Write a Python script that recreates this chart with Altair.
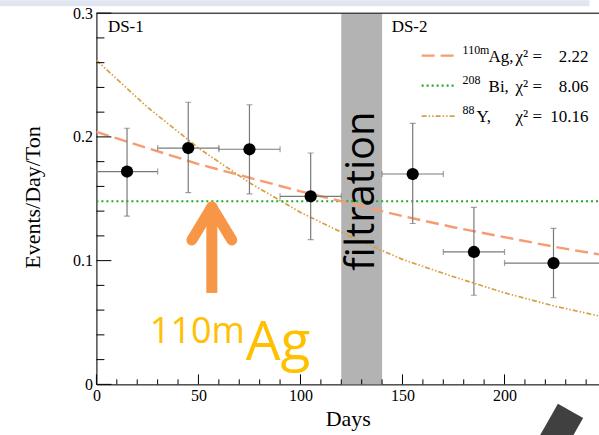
import altair as alt
import pandas as pd

# ---------------- data ----------------
days = [15, 45, 75, 105, 155, 185, 224]
day_lo = [0, 30, 60, 90, 140, 170, 200]
day_hi = [30, 60, 90, 120, 170, 200, 250]
rate = [0.172, 0.191, 0.190, 0.152, 0.170, 0.107, 0.098]
rate_lo = [0.136, 0.155, 0.154, 0.117, 0.130, 0.072, 0.070]
rate_hi = [0.207, 0.228, 0.226, 0.187, 0.211, 0.143, 0.126]

curve_days = [0, 25, 50, 75, 100, 125, 150, 175, 200, 225, 250]
ag_fit = [0.204, 0.191, 0.178, 0.167, 0.156, 0.146, 0.136, 0.127, 0.119, 0.111, 0.104]
bi_fit = [0.148, 0.148, 0.148, 0.148, 0.148, 0.148, 0.148, 0.148, 0.148, 0.148, 0.148]
y_fit = [0.262, 0.224, 0.191, 0.163, 0.139, 0.119, 0.101, 0.087, 0.074, 0.063, 0.054]

filtration_start = [120]
filtration_end = [140]

x_major = [0, 50, 100, 150, 200]
x_minor = [10, 20, 30, 40, 60, 70, 80, 90, 110, 120, 130, 140, 160, 170, 180, 190, 210, 220, 230, 240]
y_major = [0, 0.1, 0.2, 0.3]
y_minor = [0.02, 0.04, 0.06, 0.08, 0.12, 0.14, 0.16, 0.18, 0.22, 0.24, 0.26, 0.28]

# ---------------- layout ----------------
W, H = 503, 371.5
OX, OY = 96.5, 13
SERIF = "Liberation Serif"
SANS = "Open Sans"

AG_C = "#F79B72"
BI_C = "#22AA22"
Y_C = "#D6A040"

xs = alt.Scale(domain=[0, 246.3], nice=False, zero=False)
ys = alt.Scale(domain=[0, 0.3], nice=False, zero=False)

pts = pd.DataFrame({"d": days, "dl": day_lo, "dh": day_hi, "r": rate, "rl": rate_lo, "rh": rate_hi})
curves = pd.DataFrame({"d": curve_days, "ag": ag_fit, "bi": bi_fit, "y": y_fit})
band = pd.DataFrame({"a": filtration_start, "b": filtration_end})
one = pd.DataFrame({"k": [0]})

layers = []

# invisible layer carrying the axes
layers.append(alt.Chart(pts).mark_point(opacity=0).encode(
    x=alt.X("d:Q", scale=xs, title="Days", axis=alt.Axis(
        values=x_major, ticks=False, grid=False, labelFlush=False, labelFont=SERIF, labelFontSize=16,
        labelColor="black", labelPadding=3, domainColor="black", domainWidth=1,
        titleFont=SERIF, titleFontSize=22, titleFontWeight="normal", titleColor="black", titlePadding=5)),
    y=alt.Y("r:Q", scale=ys, title="Events/Day/Ton", axis=alt.Axis(
        values=y_major, ticks=False, grid=False, labelFlush=False, labelFont=SERIF, labelFontSize=16,
        labelColor="black", labelPadding=4, domainColor="black", domainWidth=1,
        labelExpr="datum.value == 0 ? '0' : format(datum.value, '.1f')",
        titleFont=SERIF, titleFontSize=22, titleFontWeight="normal", titleColor="black",
        titleAngle=270, titleAlign="center", titleBaseline="middle", titleX=-64, titleY=184))))

# filtration band
layers.append(alt.Chart(band).mark_rect(color="#B3B3B3").encode(
    x=alt.X("a:Q", scale=xs, axis=None), x2="b:Q",
    y=alt.value(0), y2=alt.value(H)))

# fitted curves
def curve(col, color, dash, width):
    return alt.Chart(curves).mark_line(color=color, strokeDash=dash, strokeWidth=width, clip=True).encode(
        x=alt.X("d:Q", scale=xs, axis=None), y=alt.Y(f"{col}:Q", scale=ys, axis=None))

layers.append(curve("y", Y_C, [5, 2, 1.5, 2, 1.5, 2], 1.7))
layers.append(curve("bi", BI_C, [2, 3], 2.2))
layers.append(curve("ag", AG_C, [13, 6], 2.4))

# error bars
EB = "#7A7A7A"
layers.append(alt.Chart(pts).mark_rule(color=EB, strokeWidth=1.2, clip=True).encode(
    x=alt.X("d:Q", scale=xs, axis=None), y=alt.Y("rl:Q", scale=ys, axis=None), y2="rh:Q"))
layers.append(alt.Chart(pts).mark_rule(color=EB, strokeWidth=1.2, clip=True).encode(
    x=alt.X("dl:Q", scale=xs, axis=None), x2="dh:Q", y=alt.Y("r:Q", scale=ys, axis=None)))
for col in ["rl", "rh"]:
    layers.append(alt.Chart(pts).mark_tick(color=EB, orient="horizontal", size=6, thickness=1.2, clip=True).encode(
        x=alt.X("d:Q", scale=xs, axis=None), y=alt.Y(f"{col}:Q", scale=ys, axis=None)))
for col in ["dl", "dh"]:
    layers.append(alt.Chart(pts).mark_tick(color=EB, orient="vertical", size=6, thickness=1.2, clip=True).encode(
        x=alt.X(f"{col}:Q", scale=xs, axis=None), y=alt.Y("r:Q", scale=ys, axis=None)))

# points
layers.append(alt.Chart(pts).mark_circle(color="black", opacity=1, size=150).encode(
    x=alt.X("d:Q", scale=xs, axis=None), y=alt.Y("r:Q", scale=ys, axis=None)))

# inward ticks
tx_major = pd.DataFrame({"v": x_major})
tx_minor = pd.DataFrame({"v": x_minor})
ty_major = pd.DataFrame({"v": y_major})
ty_minor = pd.DataFrame({"v": y_minor})
layers.append(alt.Chart(tx_major).mark_rule(color="black", strokeWidth=1).encode(
    x=alt.X("v:Q", scale=xs, axis=None), y=alt.value(H), y2=alt.value(H - 10)))
layers.append(alt.Chart(tx_minor).mark_rule(color="black", strokeWidth=1).encode(
    x=alt.X("v:Q", scale=xs, axis=None), y=alt.value(H), y2=alt.value(H - 5)))
layers.append(alt.Chart(ty_major).mark_rule(color="black", strokeWidth=1).encode(
    y=alt.Y("v:Q", scale=ys, axis=None), x=alt.value(0), x2=alt.value(15)))
layers.append(alt.Chart(ty_minor).mark_rule(color="black", strokeWidth=1).encode(
    y=alt.Y("v:Q", scale=ys, axis=None), x=alt.value(0), x2=alt.value(8)))

# top frame
layers.append(alt.Chart(one).mark_rule(color="black", strokeWidth=1).encode(
    x=alt.value(0), x2=alt.value(W), y=alt.value(0)))


def txt(s, x, y, size, font=SERIF, align="left", baseline="alphabetic", color="black", angle=None):
    kw = dict(text=s, fontSize=size, font=font, align=align, baseline=baseline, color=color)
    if angle is not None:
        kw["angle"] = angle
    return alt.Chart(one).mark_text(**kw).encode(x=alt.value(x - OX), y=alt.value(y - OY))


def rule(x1, y1, x2, y2, color, width, dash=None, cap="butt"):
    kw = dict(color=color, strokeWidth=width, strokeCap=cap)
    if dash is not None:
        kw["strokeDash"] = dash
    return alt.Chart(one).mark_rule(**kw).encode(
        x=alt.value(x1 - OX), y=alt.value(y1 - OY), x2=alt.value(x2 - OX), y2=alt.value(y2 - OY))

# DS labels
layers.append(txt("DS-1", 108, 32, 17))
layers.append(txt("DS-2", 392, 32, 17))

# legend
rows = [
    (55.5, AG_C, [13, 6], 2.4, "110m", "Ag,", 489, "2.22"),
    (85.5, BI_C, [2, 3], 2.2, "208", "Bi,", 489, "8.06"),
    (116, Y_C, [5, 2, 1.5, 2, 1.5, 2], 1.7, "88", "Y,", 477, "10.16"),
]
for yy, col, dash, wdt, sup, el, elx, val in rows:
    layers.append(rule(422, yy, 456, yy, col, wdt, dash))
    layers.append(txt(sup, 463, yy - 2, 12))
    layers.append(txt(el, elx, yy + 6, 17))
    layers.append(txt("χ² =", 516, yy + 6, 17))
    layers.append(txt(val, 589, yy + 6, 17, align="right"))

# filtration label
layers.append(txt("filtration", 362, 191, 40, font=SANS, align="center", baseline="middle", angle=270))

# arrow
AR = "#F79646"
layers.append(rule(212, 293, 212, 210, AR, 11))
layers.append(rule(212, 207, 192, 240, AR, 11, cap="round"))
layers.append(rule(212, 207, 232, 240, AR, 11, cap="round"))

# 110mAg label
layers.append(txt("110m", 150, 343, 36, font=SANS, color="#FFC000"))
layers.append(txt("Ag", 246, 360, 55, font=SANS, color="#FFC000"))

# slide decorations
layers.append(alt.Chart(one).mark_rect(color="#DFE5F1").encode(
    x=alt.value(-OX), x2=alt.value(590 - OX), y=alt.value(-OY), y2=alt.value(6 - OY)))
layers.append(rule(571, 411, 541, 464, "#404040", 29))

chart = alt.layer(*layers).resolve_axis(x="independent", y="independent").properties(
    width=W, height=H,
    autosize=alt.AutoSizeParams(type="none"),
    padding={"left": OX, "top": OY, "right": 0, "bottom": 435 - OY - H},
).configure_view(stroke=None).configure(background="white")

chart.save("out.html", embed_options={"renderer": "svg", "actions": False})
